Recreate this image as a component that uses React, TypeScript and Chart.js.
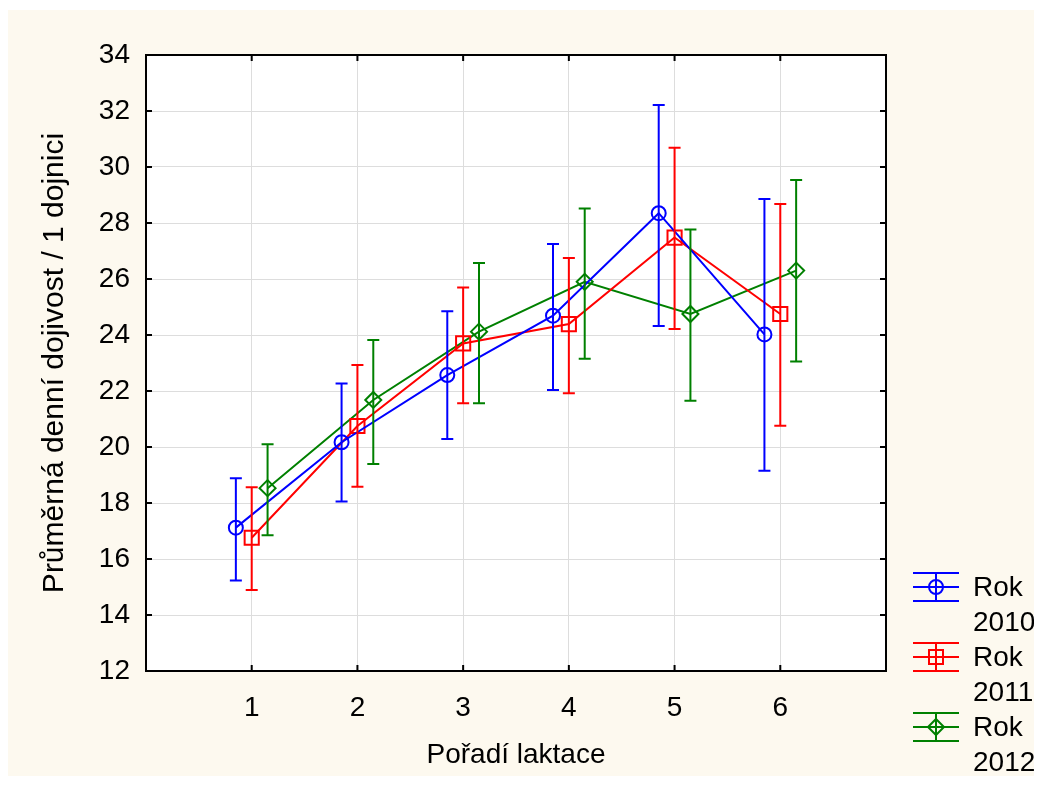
import React, { useEffect, useRef } from 'react';
import { Chart, registerables } from 'chart.js';

Chart.register(...registerables);

const categories = [1, 2, 3, 4, 5, 6];
const xTickLabels = ['1', '2', '3', '4', '5', '6'];
const seriesLabels = [['Rok', '2010'], ['Rok', '2011'], ['Rok', '2012']];
const seriesColors = ['#0000ff', '#ff0000', '#008000'];
const seriesOffsets = [-0.15, 0, 0.15];
const seriesPointStyles = ['circle', 'rect', 'rectRot'];
const seriesPointRadius = [7, 10, 8];

const mean2010 = [17.12, 20.17, 22.57, 24.69, 28.35, 24.02];
const upper2010 = [18.88, 22.27, 24.85, 27.25, 32.21, 28.86];
const lower2010 = [15.23, 18.05, 20.29, 22.04, 24.32, 19.15];

const mean2011 = [16.76, 20.75, 23.7, 24.39, 27.48, 24.75];
const upper2011 = [18.56, 22.93, 25.7, 26.75, 30.69, 28.68];
const lower2011 = [14.89, 18.58, 21.56, 21.92, 24.21, 20.76];

const mean2012 = [18.53, 21.68, 24.12, 25.9, 24.75, 26.3];
const upper2012 = [20.1, 23.82, 26.57, 28.52, 27.77, 29.54];
const lower2012 = [16.85, 19.39, 21.56, 23.15, 21.65, 23.05];

const means = [mean2010, mean2011, mean2012];
const uppers = [upper2010, upper2011, upper2012];
const lowers = [lower2010, lower2011, lower2012];

const yMin = 12;
const yMax = 34;
const yStep = 2;
const xMin = 0;
const xMax = 7;

const FONT = '"Liberation Sans", Arial, sans-serif';
const FS = 28;

const errorBarPlugin = {
  id: 'errorBars',
  afterDatasetsDraw(chart: any) {
    const { ctx, scales } = chart;
    const x = scales.x;
    const y = scales.y;
    ctx.save();
    ctx.lineWidth = 2;
    means.forEach((_m, i) => {
      ctx.strokeStyle = seriesColors[i];
      categories.forEach((c, j) => {
        const px = x.getPixelForValue(c + seriesOffsets[i]);
        const pt = y.getPixelForValue(uppers[i][j]);
        const pb = y.getPixelForValue(lowers[i][j]);
        ctx.beginPath();
        ctx.moveTo(px, pt);
        ctx.lineTo(px, pb);
        ctx.moveTo(px - 6, pt);
        ctx.lineTo(px + 6, pt);
        ctx.moveTo(px - 6, pb);
        ctx.lineTo(px + 6, pb);
        ctx.stroke();
      });
    });
    ctx.restore();
  },
};

const framePlugin = {
  id: 'frame',
  beforeDraw(chart: any) {
    const { ctx, chartArea } = chart;
    ctx.save();
    ctx.fillStyle = '#ffffff';
    ctx.fillRect(chartArea.left, chartArea.top, chartArea.right - chartArea.left, chartArea.bottom - chartArea.top);
    ctx.restore();
  },
  afterDraw(chart: any) {
    const { ctx, chartArea, scales } = chart;
    const { left, right, top, bottom } = chartArea;
    const x = scales.x;
    const y = scales.y;
    ctx.save();
    ctx.strokeStyle = '#000000';
    ctx.lineWidth = 2;
    ctx.strokeRect(left, top, right - left, bottom - top);
    const tl = 6;
    ctx.beginPath();
    categories.forEach((c) => {
      const px = x.getPixelForValue(c);
      ctx.moveTo(px, bottom);
      ctx.lineTo(px, bottom - tl);
      ctx.moveTo(px, top);
      ctx.lineTo(px, top + tl);
    });
    for (let v = yMin + yStep; v < yMax; v += yStep) {
      const py = y.getPixelForValue(v);
      ctx.moveTo(left, py);
      ctx.lineTo(left + tl, py);
      ctx.moveTo(right, py);
      ctx.lineTo(right - tl, py);
    }
    ctx.stroke();

    // legend
    const lx0 = right + 27;
    const lx1 = right + 73;
    const lcx = (lx0 + lx1) / 2;
    const tx = right + 87;
    const centers = [bottom - 84, bottom - 14, bottom + 56];
    centers.forEach((cy, i) => {
      ctx.strokeStyle = seriesColors[i];
      ctx.lineWidth = 2;
      ctx.beginPath();
      ctx.moveTo(lx0, cy - 14);
      ctx.lineTo(lx1, cy - 14);
      ctx.moveTo(lx0, cy);
      ctx.lineTo(lx1, cy);
      ctx.moveTo(lx0, cy + 14);
      ctx.lineTo(lx1, cy + 14);
      ctx.moveTo(lcx, cy - 14);
      ctx.lineTo(lcx, cy + 14);
      ctx.stroke();
      ctx.beginPath();
      const st = seriesPointStyles[i];
      if (st === 'circle') {
        ctx.arc(lcx, cy, 7, 0, Math.PI * 2);
      } else if (st === 'rect') {
        ctx.rect(lcx - 7, cy - 7, 14, 14);
      } else {
        ctx.moveTo(lcx, cy - 8);
        ctx.lineTo(lcx + 8, cy);
        ctx.lineTo(lcx, cy + 8);
        ctx.lineTo(lcx - 8, cy);
        ctx.closePath();
      }
      ctx.stroke();
      ctx.fillStyle = '#000000';
      ctx.font = `${FS}px ${FONT}`;
      ctx.textAlign = 'left';
      ctx.textBaseline = 'middle';
      ctx.fillText(seriesLabels[i][0], tx, cy + 1);
      ctx.fillText(seriesLabels[i][1], tx, cy + 36);
    });
    ctx.restore();
  },
};

export default function App() {
  const canvasRef = useRef<HTMLCanvasElement | null>(null);

  useEffect(() => {
    if (!canvasRef.current) return;
    const datasets = means.map((m, i) => ({
      label: seriesLabels[i].join(' '),
      data: categories.map((c, j) => ({ x: c + seriesOffsets[i], y: m[j] })),
      borderColor: seriesColors[i],
      backgroundColor: 'transparent',
      borderWidth: 2,
      pointStyle: seriesPointStyles[i] as any,
      pointRadius: seriesPointRadius[i],
      pointBorderWidth: 2,
      pointBorderColor: seriesColors[i],
      pointBackgroundColor: 'transparent',
      fill: false,
      tension: 0,
    }));
    const chart = new Chart(canvasRef.current, {
      type: 'line',
      data: { datasets },
      plugins: [framePlugin, errorBarPlugin],
      options: {
        animation: false,
        responsive: true,
        maintainAspectRatio: false,
        layout: { padding: { left: 0, top: 45, right: 148, bottom: 0 } },
        plugins: {
          legend: { display: false },
          tooltip: { enabled: false },
        },
        scales: {
          x: {
            type: 'linear',
            min: xMin,
            max: xMax,
            afterFit: (s: any) => {
              s.height = 107;
            },
            afterBuildTicks: (s: any) => {
              s.ticks = [xMin, ...categories, xMax].map((v) => ({ value: v }));
            },
            ticks: {
              stepSize: 1,
              color: '#000000',
              padding: 20,
              font: { family: FONT, size: FS },
              callback: (v: any) => {
                const idx = categories.indexOf(Number(v));
                return idx >= 0 ? xTickLabels[idx] : '';
              },
            },
            grid: { color: '#dddddd', lineWidth: 1, drawTicks: false },
            border: { display: false },
            title: {
              display: true,
              text: 'Pořadí laktace',
              color: '#000000',
              font: { family: FONT, size: FS },
              padding: { top: 0, bottom: 6 },
            },
          },
          y: {
            type: 'linear',
            min: yMin,
            max: yMax,
            afterFit: (s: any) => {
              s.width = 138;
            },
            ticks: {
              stepSize: yStep,
              color: '#000000',
              padding: 16,
              font: { family: FONT, size: FS },
            },
            grid: { color: '#dddddd', lineWidth: 1, drawTicks: false },
            border: { display: false },
            title: {
              display: true,
              text: 'Průměrná denní dojivost / 1 dojnici',
              color: '#000000',
              font: { family: FONT, size: 30 },
              padding: { top: 29, bottom: 0 },
            },
          },
        },
      },
    });
    return () => chart.destroy();
  }, []);

  return (
    <div
      style={{
        position: 'relative',
        top: 2,
        width: 1026,
        height: 768,
        background: '#fdf9ef',
      }}
    >
      <canvas ref={canvasRef} />
    </div>
  );
}
